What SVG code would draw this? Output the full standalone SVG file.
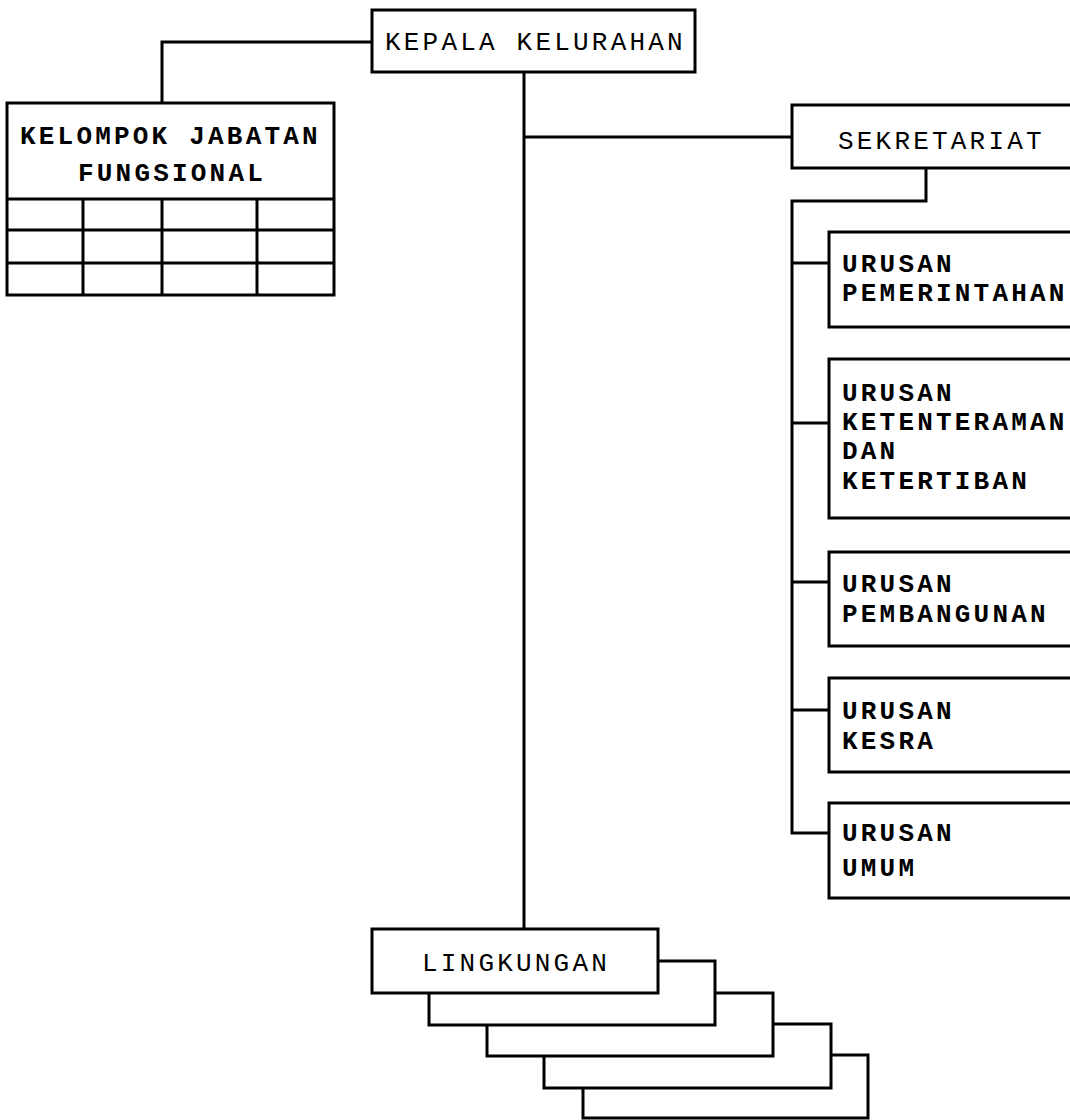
<svg xmlns="http://www.w3.org/2000/svg" width="1070" height="1120" viewBox="0 0 1070 1120">
<style>
.box{fill:#fff;stroke:#000;stroke-width:3}
.ln{fill:none;stroke:#000;stroke-width:3}
.t{font-family:"Liberation Mono","Courier New",monospace;font-size:26px;letter-spacing:3.2px;fill:#000}
.b{font-weight:bold}
</style>
<rect width="1070" height="1120" fill="#fff"/>
<g id="connectors">
<polyline class="ln" points="372,42 162,42 162,103"/>
<line class="ln" x1="524" y1="72" x2="524" y2="929"/>
<line class="ln" x1="524" y1="137" x2="792" y2="137"/>
<polyline class="ln" points="926,168 926,201 792,201 792,833 829,833"/>
<line class="ln" x1="792" y1="263" x2="829" y2="263"/>
<line class="ln" x1="792" y1="423" x2="829" y2="423"/>
<line class="ln" x1="792" y1="582" x2="829" y2="582"/>
<line class="ln" x1="792" y1="710" x2="829" y2="710"/>
</g>
<g id="kepala">
<rect class="box" x="372" y="10" width="323" height="62"/>
<text class="t" x="385" y="50">KEPALA KELURAHAN</text>
</g>
<g id="kelompok">
<rect class="box" x="7" y="103" width="327" height="192"/>
<text class="t b" x="20" y="144">KELOMPOK JABATAN</text>
<text class="t b" x="78" y="181">FUNGSIONAL</text>
<line class="ln" x1="7" y1="199" x2="334" y2="199"/>
<line class="ln" x1="7" y1="230" x2="334" y2="230"/>
<line class="ln" x1="7" y1="263" x2="334" y2="263"/>
<line class="ln" x1="83" y1="199" x2="83" y2="295"/>
<line class="ln" x1="162" y1="199" x2="162" y2="295"/>
<line class="ln" x1="257" y1="199" x2="257" y2="295"/>
</g>
<g id="sekretariat">
<rect class="box" x="792" y="105" width="290" height="63"/>
<text class="t" x="838" y="149">SEKRETARIAT</text>
</g>
<g id="pemerintahan">
<rect class="box" x="829" y="232" width="250" height="95"/>
<text class="t b" x="842" y="272">URUSAN</text>
<text class="t b" x="842" y="301">PEMERINTAHAN</text>
</g>
<g id="ketenteraman">
<rect class="box" x="829" y="359" width="250" height="159"/>
<text class="t b" x="842" y="401">URUSAN</text>
<text class="t b" x="842" y="430">KETENTERAMAN</text>
<text class="t b" x="842" y="459">DAN</text>
<text class="t b" x="842" y="489">KETERTIBAN</text>
</g>
<g id="pembangunan">
<rect class="box" x="829" y="552" width="250" height="94"/>
<text class="t b" x="842" y="592">URUSAN</text>
<text class="t b" x="842" y="622">PEMBANGUNAN</text>
</g>
<g id="kesra">
<rect class="box" x="829" y="678" width="250" height="94"/>
<text class="t b" x="842" y="719">URUSAN</text>
<text class="t b" x="842" y="749">KESRA</text>
</g>
<g id="umum">
<rect class="box" x="829" y="803" width="250" height="95"/>
<text class="t b" x="842" y="841">URUSAN</text>
<text class="t b" x="842" y="876">UMUM</text>
</g>
<g id="lingkungan">
<rect class="box" x="583" y="1055" width="285" height="63"/>
<rect class="box" x="544" y="1024" width="287" height="64"/>
<rect class="box" x="487" y="993" width="286" height="63"/>
<rect class="box" x="429" y="961" width="286" height="64"/>
<rect class="box" x="372" y="929" width="286" height="64"/>
<text class="t" x="422" y="971">LINGKUNGAN</text>
</g>
</svg>
